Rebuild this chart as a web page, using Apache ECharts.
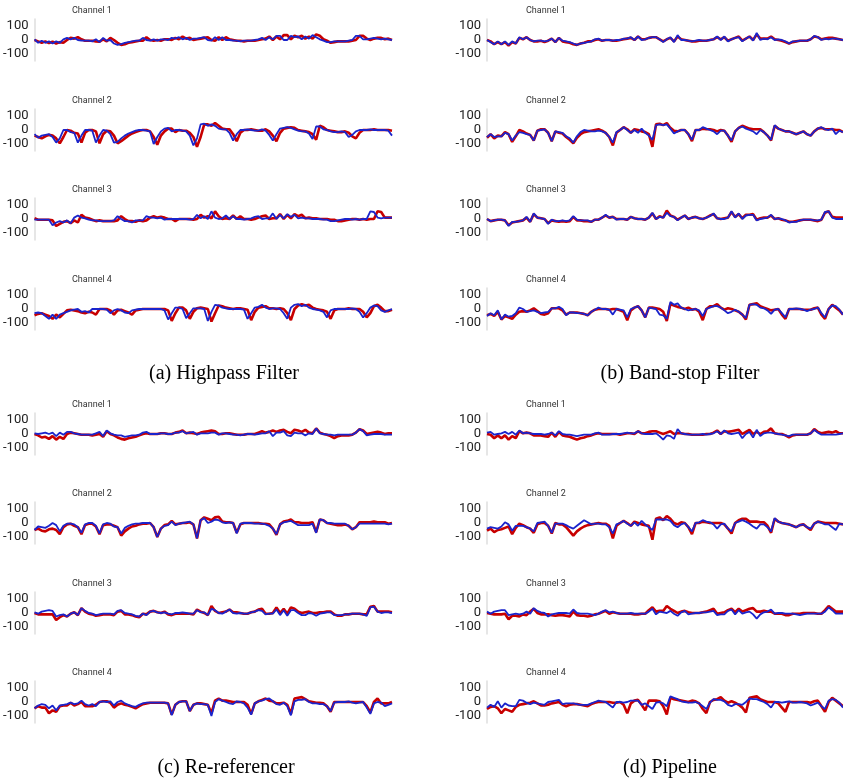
<!DOCTYPE html>
<html><head><meta charset="utf-8">
<script src="https://cdn.jsdelivr.net/npm/echarts@6/dist/echarts.min.js"></script>
<style>html,body{margin:0;padding:0;background:#fff}#c{width:843px;height:780px}</style>
</head><body><div id="c"></div>
<script>
const channelNames = ['Channel 1','Channel 2','Channel 3','Channel 4'];
const panelCaptions = ['(a) Highpass Filter','(b) Band-stop Filter','(c) Re-referencer','(d) Pipeline'];
const yTickValues = [-100, 0, 100];
const sampleCount = 100;

// (a) Highpass Filter
const hp1R = [0,-10,-20,-10,-22,-12,-25,-15,-20,0, 15,10,20,5,-5,-5,-5,-10,-12,5, -10,15,0,-20,-35,-30,-20,-15,-10,-5, -5,20,0,-5,0,-5,5,5,0,15, 5,25,10,15,0,5,10,15,20,0, -5,20,0,20,5,0,-5,-5,-10,-5, -5,-5,0,5,10,25,0,25,5,35, 35,5,30,20,30,10,25,10,40,30, 5,-5,-20,-15,-10,-10,-10,-10,-5,0, 30,30,10,0,10,15,15,5,10,0];
const hp1B = [5,-20,-5,-20,-10,-25,-10,-20,5,15, 5,15,0,-5,-5,-5,-10,5,-15,15, -5,0,-25,-35,-30,-20,-15,-10,-5,-5, 15,0,-5,5,-5,5,5,0,15,10, 20,5,15,0,10,10,15,20,0,-5, 20,0,20,0,0,-5,-5,-10,-5,-5, -5,0,5,15,0,20,5,30,30,0, 0,30,20,25,5,25,10,35,20,5, -5,-15,-15,-10,-10,-10,-10,-5,0,30, 30,5,5,10,15,10,5,10,5,0];
const hp2R = [-40,-50,-60,-45,-35,-40,-60,-95,-50,0, -5,-20,-25,-90,-20,0,0,-10,-95,-30, -5,-10,-40,-95,-80,-60,-40,-25,-15,-5, 0,0,-10,-50,-105,-40,-10,10,10,-15, 0,-5,-5,-20,-50,-120,-50,40,40,30, 50,30,10,5,5,-30,-80,-20,0,0, 5,0,-5,-5,5,-10,-40,-80,-20,10, 15,20,15,0,-5,-10,-15,-30,-70,30, 20,0,-5,-10,-15,-15,-10,-20,-45,-60, -20,0,0,0,5,0,0,0,0,-5];
const hp2B = [-30,-55,-40,-35,-30,-50,-90,-60,0,0, -15,-20,-90,-40,0,0,-5,-90,-40,0, -5,-30,-90,-85,-60,-40,-25,-15,-5,0, 0,-5,-10,-100,-50,-10,10,15,-10,0, 0,-5,-10,-40,-110,-60,40,45,30,40, 30,10,5,5,-20,-75,-30,0,0,5, 0,-5,-5,5,-5,-35,-75,-30,10,15, 20,15,5,-5,-10,-10,-25,-65,25,25, 5,0,-10,-15,-15,-10,-15,-50,-35,-10, 0,0,0,5,0,0,0,0,-5,-40];
const hp3R = [5,-5,-5,-5,-5,-10,-50,-35,-20,-15, -30,-10,-25,30,10,5,-5,-15,-10,-15, -15,-15,-15,-10,20,0,-15,-15,-20,-10, -15,-10,10,20,10,15,10,0,0,-15, 0,0,0,0,-5,0,30,10,20,5, 55,20,0,5,0,25,0,20,0,0, -5,0,10,20,25,0,5,5,35,0, 30,5,35,20,30,5,10,5,5,0, 0,0,-5,-5,-15,-15,-10,-5,0,0, -5,0,-5,0,0,55,50,10,10,10];
const hp3B = [-5,-5,-5,-5,-5,-45,-25,-15,-25,-10, -30,10,25,10,5,-5,-10,-10,-15,-15, -15,-15,-10,20,0,-15,-15,-25,-10,-10, -10,20,10,10,5,10,-5,0,0,0, 0,0,0,-5,0,30,5,20,0,55, 10,0,5,25,0,20,0,0,-5,0, 5,15,20,0,5,5,40,0,30,5, 35,15,30,5,10,5,5,0,0,0, -5,-5,-15,-15,-10,-5,0,0,-5,0, -5,0,0,55,50,10,5,10,10,10];
const hp4R = [-45,-35,-30,-40,-50,-70,-40,-60,-35,-10, -5,-10,-15,-25,-30,-20,-25,-40,0,0, 0,-10,-40,-10,-5,-15,-25,-40,-10,-5, 0,0,0,0,0,0,0,-10,-85,-30, 10,10,-10,-70,-20,5,10,5,0,-90, -30,25,20,10,5,0,5,5,0,-5, -80,-20,10,15,20,5,5,0,5,0, -30,-80,0,25,35,25,30,10,0,-5, -10,-20,-70,-10,0,0,0,5,0,0, 0,-20,-60,-30,20,30,10,-15,-15,-5];
const hp4B = [-30,-25,-30,-50,-70,-40,-70,-40,-30,-20, -10,-5,0,-20,-15,-25,0,0,0,0, -5,-30,-10,0,-10,-25,-30,-10,-5,0, 0,0,0,0,0,0,-10,-75,-30,10, 10,0,-65,-30,5,5,5,0,-85,-20, 30,25,10,5,0,0,0,0,-5,-70, -30,10,15,30,10,0,5,5,0,-30, -70,10,30,35,20,30,10,0,-5,-10, -20,-60,-10,0,0,0,0,0,5,0, -20,-60,-30,10,25,20,-10,-20,-10,0];

// (b) Band-stop Filter
const bs1R = [0,-10,-30,-15,-30,-15,-40,-15,-25,15, 5,20,0,-10,-10,-5,-15,-5,10,-15, 15,-10,-15,-20,-30,-35,-25,-20,-10,-10, 0,5,-5,0,0,-5,-5,0,5,10, 15,0,25,5,5,15,20,20,5,-10, 5,15,-10,25,5,0,-5,-10,-10,-5, -5,-5,0,5,20,5,20,-5,5,15, 25,-5,10,25,0,40,10,10,10,25, 5,0,-5,-15,-25,-15,-10,-5,-5,-5, 5,25,20,5,10,15,15,10,5,0];
const bs1B = [0,-15,-30,-10,-30,-10,-35,-10,-25,20, 5,20,0,-10,-5,-5,-10,-5,10,-15, 15,-5,-10,-15,-25,-35,-25,-20,-15,-10, 5,10,-5,0,0,-5,0,0,10,10, 20,0,25,0,5,15,20,20,5,-15, 5,20,-15,35,0,0,-5,-10,-5,0, -5,-5,0,5,25,0,25,-10,5,15, 20,-10,10,25,-5,50,0,10,5,20, 0,5,0,-10,-25,-10,-10,-5,-5,-5, 5,30,20,0,10,5,10,10,5,0];
const bs2R = [-55,-30,-60,-40,-45,-15,-30,-85,-45,0, -10,-25,-35,-75,-5,5,5,-20,-80,-10, -20,-25,-50,-70,-95,-55,-30,-15,-10,-5, 0,5,-5,-20,-50,-110,-20,0,20,5, -20,5,0,-10,-15,-30,-120,40,45,35, 50,15,-5,-10,0,0,-30,-80,0,0, 10,5,5,0,-10,0,-5,-40,-85,-10, 15,30,20,10,5,5,5,-15,-40,-75, 30,10,0,-10,-10,-20,-30,-20,-10,-30, -40,-10,10,15,5,5,5,0,0,-15];
const bs2B = [-50,-30,-50,-45,-45,-20,-30,-75,-40,-15, -20,-30,-35,-75,-5,0,5,-20,-80,-10, -15,-20,-45,-60,-90,-45,-15,0,-5,-10, -10,-5,-10,-20,-50,-90,-15,0,20,0, -20,0,-20,10,-20,-40,-70,35,40,35, 40,10,-25,-10,0,0,-30,-70,0,0, 20,10,0,-10,-30,-5,-5,-40,-75,-10, 15,25,10,0,-10,-30,0,-15,-40,-70, 35,10,0,-10,-10,-20,-30,-20,-10,-30, -40,-10,10,20,5,0,10,-30,-5,-15];
const bs3R = [0,-15,-10,-5,-5,-10,-45,-25,-20,-15, -10,10,-20,35,10,5,0,-30,-10,-15, -20,-15,-20,-15,15,-10,-10,-15,-15,-20, -5,-5,10,25,10,15,0,0,0,-5, 15,5,0,0,-5,10,40,0,20,10, 60,25,15,-5,10,25,0,10,15,5, 0,10,25,35,5,0,5,10,50,15, 35,5,30,30,35,-5,5,10,10,25, 0,5,-5,-10,-20,-20,-15,-10,-5,-5, -5,-10,-15,-5,45,55,15,10,10,10];
const bs3B = [0,-15,-10,-5,-5,-10,-50,-20,-20,-15, -10,15,-20,40,10,5,0,-35,-5,-15, -15,-10,-15,-10,20,-5,-10,-10,-10,-20, -5,-5,10,30,10,15,-5,0,0,-5, 15,5,0,0,-5,10,45,0,15,10, 45,20,15,-10,10,25,0,10,15,5, 0,10,20,40,5,0,0,10,55,10, 40,0,25,30,30,-10,0,5,10,30, 0,5,0,-10,-25,-20,-20,-10,-5,-5, -5,-10,-10,-5,50,55,10,0,0,0];
const bs4R = [-45,-35,-50,-20,-75,-50,-60,-70,-40,-20, -15,-20,-10,5,-15,-35,-40,-30,5,5, 5,-10,-40,-25,-25,-25,-30,-35,-45,-20, -5,0,0,0,-5,0,0,-10,-20,-80, -10,10,20,-10,-60,10,10,5,0,-20, -85,35,25,15,10,0,10,-5,0,-20, -80,0,20,20,35,10,-5,5,0,-10, -20,-40,-75,30,35,40,20,10,0,-10, -5,0,-40,-70,0,0,0,0,-5,-5, -5,5,10,-40,-70,0,30,10,-10,-40];
const bs4B = [-50,-30,-45,-10,-75,-40,-55,-50,-30,10, 0,-20,-15,-10,-20,-30,-25,-20,5,5, 15,0,-45,-25,-25,-30,-30,-35,-45,-20, -5,10,0,0,-5,-40,0,-5,-10,-60, 0,10,20,-10,-60,10,5,0,-40,-45, -70,50,30,40,10,0,-10,-5,0,-10, -50,0,10,20,20,10,-10,-30,-20,-5, -20,-40,-65,30,35,30,10,5,-10,-35, -5,0,-30,-60,0,0,5,0,-5,-15, -5,0,10,-30,-60,0,25,20,-5,-40];

// (c) Re-referencer
const rr1R = [0,-10,-25,-20,-35,-15,-40,-20,-35,0, 10,5,0,-5,-5,-5,-10,-5,0,-20, 20,0,-10,-25,-35,-40,-30,-25,-20,-10, 0,5,0,0,0,5,5,0,0,10, 15,25,5,10,5,0,10,15,20,25, 20,0,0,5,5,0,-5,-5,-5,0, 0,0,10,20,10,15,25,15,25,30, 15,5,30,25,15,30,10,5,40,10, 0,-5,-15,-30,-15,-10,-10,-10,-5,10, 35,25,0,5,10,15,10,0,5,5];
const rr1B = [5,0,5,10,0,10,-15,10,-5,15, 15,5,0,-5,-5,-5,-5,5,15,-15, 25,5,-5,-10,-10,-20,-15,-10,-10,-5, 10,15,0,0,0,5,5,0,0,10, 10,20,5,10,15,-5,5,5,5,10, 10,-5,5,5,0,-5,-5,-10,-5,0, 0,-5,0,5,5,20,-15,10,10,20, -10,-15,10,5,5,-10,5,0,40,5, 0,-5,-5,-10,-5,-5,-5,-5,-5,10, 35,20,-10,-5,0,0,0,-5,-5,-5];
const rr2R = [-50,-40,-55,-60,-45,-40,-50,-80,-30,-10, -5,-20,-30,-80,-15,-5,-5,-25,-80,-15, -10,-10,-20,-30,-90,-60,-40,-25,-20,-10, -5,-5,0,-30,-100,-40,-15,-10,15,-10, -5,0,0,5,-10,-110,20,40,30,20, 40,45,10,5,5,0,-70,-10,0,0, 0,0,0,-5,-5,-10,-40,-85,-10,10, 15,25,5,5,0,0,0,5,-65,25, 20,0,-5,-10,-15,-15,-10,-20,-45,-30, 5,5,5,5,10,5,5,5,-5,0];
const rr2B = [-50,-25,-30,-35,-20,0,-15,-60,-20,-5, -5,-10,-30,-70,-10,0,0,-20,-75,-10, 0,-5,-25,-30,-75,-35,-20,-10,-5,-5, 0,0,0,-30,-100,-40,-20,-15,10,-15, -5,0,5,10,-10,-110,20,35,0,10, 25,20,5,0,5,0,-75,-5,0,0, 0,-5,-5,-5,-10,-20,-40,-80,-10,5, 10,15,0,-15,-15,-15,-15,-5,-70,25, 20,0,0,-5,-5,-5,-5,-20,-45,-30, -5,-5,-5,-5,-5,-5,-5,-5,-10,-5];
const rr3R = [0,-10,-10,-10,-10,-10,-50,-30,-15,-25, -5,5,-15,35,10,-5,-10,-20,-15,-10, -10,-10,-15,10,15,-10,-10,-15,-25,-30, -5,-10,10,15,5,0,10,-10,-15,-5, -5,-5,-5,-5,-10,25,10,0,-15,50, 15,0,5,10,25,5,5,0,-5,-5, 5,10,25,30,-5,-5,0,40,0,30, -5,40,30,10,0,5,10,0,0,5, 5,10,10,-10,-20,-20,-10,-10,-5,-5, -5,-10,-10,45,50,10,10,10,10,5];
const rr3B = [5,-5,10,15,20,15,-25,-15,-10,-25, -5,5,-15,35,15,0,-5,-15,-10,-5, -5,-5,-10,15,20,0,-5,-10,-20,-25, -5,-15,10,15,5,0,5,-5,-10,0, 0,5,0,-5,-5,20,5,5,-15,30, 20,0,-5,10,25,0,-5,0,-5,-5, 5,10,20,15,-10,-5,-5,25,-15,20, -20,20,20,0,-15,-15,0,-5,-20,-5, 0,5,5,-15,-15,-15,-10,-10,-5,-5, -5,-10,-20,40,45,10,0,5,5,0];
const rr4R = [-45,-30,-40,-40,-80,-60,-70,-30,-25,-25, -5,-25,-15,0,-30,-30,-30,-20,0,5, 5,-5,-40,-20,-10,-20,-25,-35,-45,-30, -15,-10,-5,-5,-5,-5,-5,-10,-90,-20, 0,5,5,-65,-20,-10,-10,-15,-20,-80, 10,25,10,10,5,0,0,0,0,-20, -85,-10,5,15,25,10,5,-10,-10,-5, -20,-85,25,30,35,20,5,0,-5,-5, -10,-30,-70,0,0,0,0,0,0,0, 0,0,-30,-75,0,25,-10,-10,-10,0];
const rr4B = [-45,-25,-15,-20,-45,-25,-60,-25,-20,-15, -5,-15,-10,10,-15,-25,-15,-30,0,5, 0,5,-25,0,10,-10,-20,-30,-35,-20, -10,-5,-5,-5,-5,-5,-5,-10,-95,-20, 0,5,5,-65,-20,-10,-15,-15,-20,-100, 0,20,10,0,-10,-15,5,0,-10,-40, -90,-10,5,10,20,25,5,-15,-20,-5, -30,-95,5,15,15,20,0,-10,-10,-15, -15,-30,-65,-5,0,0,0,5,-5,-10, -5,0,-40,-85,-10,0,-5,-30,-20,-10];

// (d) Pipeline
const pl1R = [0,-5,-30,-10,-30,-10,-40,-15,-30,20, 5,10,5,-10,-10,-10,-15,-20,10,-20, 15,-10,-15,-20,-30,-40,-30,-25,-15,-10, 0,5,0,0,0,0,0,-5,0,5, 5,0,20,5,5,15,20,20,10,0, 10,20,0,5,5,0,0,-5,-5,-5, -5,0,0,10,25,0,20,15,20,25, 30,0,15,30,0,15,0,15,20,40, 5,0,0,-10,-25,-10,-5,-5,-5,-5, 5,35,15,5,10,15,10,20,5,5];
const pl1B = [10,15,-5,0,5,15,0,15,-5,25, 5,10,5,0,0,0,-5,0,10,-10, 20,0,-5,-5,-10,-15,-10,-5,-5,-5, 5,10,-5,-5,-5,0,0,0,5,10, 5,5,20,5,0,0,0,5,-15,-40, -10,-15,-35,35,5,0,-5,-5,-5,-5, 0,-5,0,5,20,0,25,5,0,5, 10,-30,0,15,-25,30,-15,5,10,10, 5,0,-5,-10,-15,-5,-5,-5,-5,-5, 5,30,10,-5,-5,-5,-5,-5,0,5];
const pl2R = [-55,-40,-65,-50,-45,-35,-25,-80,-35,-5, -15,-30,-40,-70,-10,0,0,-20,-75,0, -10,-10,-30,-60,-90,-60,-40,-25,-15,-10, -5,0,-5,-5,-20,-110,-20,0,15,0, -20,10,0,-10,-15,-20,-120,30,40,20, 50,30,0,-10,5,0,-30,-80,0,0, 10,5,0,0,0,0,-10,-40,-75,0, 20,30,30,10,10,10,5,5,-20,-70, 30,10,0,-5,-10,-20,-30,-15,-10,-30, -50,-5,10,5,0,0,0,0,-5,-10];
const pl2B = [-40,-30,-35,-40,-25,5,-10,-55,-20,-20, -20,-30,-40,-60,0,5,10,-20,-70,-5, -5,-5,-15,-30,-40,-20,0,20,5,-10, -5,-5,-10,-10,-30,-75,-10,0,15,-5, -20,5,-20,15,-10,-30,-50,25,25,25, 25,15,-15,-30,-10,0,-30,-60,0,5, 20,10,5,-10,-40,-10,-5,-40,-60,0, 10,20,10,-5,-25,-40,-10,-10,-30,-60, 35,10,0,-5,-10,-20,-30,-15,-10,-30, -40,-5,10,0,-10,-10,-30,-50,-5,-10];
const pl3R = [0,-5,-10,-10,-10,-5,-45,-20,-20,-25, -10,-15,10,30,0,-10,-10,-10,-15,-20, -15,-15,-20,-25,10,-15,-20,-20,-25,-20, -10,-5,5,15,-5,5,0,-5,-5,-5, -5,-10,-10,-5,-5,20,40,10,15,15, 50,30,15,0,10,15,5,0,0,0, 5,10,20,30,-5,0,5,20,30,5, 30,10,20,30,35,10,10,15,10,10, -5,-5,-5,-15,-15,-5,-5,-5,0,0, 0,0,-5,-5,20,50,30,10,10,10];
const pl3B = [10,-5,10,15,20,20,-15,-10,-5,-10, -5,10,-5,35,15,5,0,-25,-10,-5, 0,0,0,-5,25,0,-5,-5,-5,-10, -15,-5,10,20,5,10,0,-5,-5,-5, 0,-5,-5,-5,-5,10,30,-10,10,5, 0,15,-5,-20,5,15,-10,-5,0,0, 5,5,10,15,-15,-10,-10,15,25,-10, 20,-5,5,10,-10,-40,-10,5,10,25, -5,0,0,-5,-5,-5,-10,-15,-10,-5, -5,-5,-5,-5,10,40,20,-5,-5,-5];
const pl4R = [-50,-35,-30,-45,-80,-50,-60,-70,-35,-20, -15,-10,-5,5,-10,-25,-25,-20,-10,-5, 0,-20,-30,-20,-15,-15,-20,-25,-30,-15, -5,0,0,0,0,-5,-5,0,-20,-80, -10,10,15,-20,-60,10,10,10,5,-30, -90,30,20,15,10,5,0,10,5,-10, -50,-80,0,15,20,35,10,-5,5,-5, -20,-40,-75,30,35,40,20,10,0,0, 0,-10,-40,-70,0,0,0,0,0,0, -5,5,10,-30,-70,0,30,10,-10,-30];
const pl4B = [-40,-20,-35,5,-40,-10,-25,-30,-30,15, 10,-5,-15,-5,-10,-15,-20,0,5,10, 15,-15,-10,-10,-10,-15,-20,-20,-20,-10, 0,10,5,0,-20,-40,0,0,-5,0, 10,10,10,-20,-10,-30,-50,-5,0,-10, -30,40,30,20,5,0,-5,-5,0,-10, -30,-50,-5,20,15,15,5,-20,-30,-15, -15,-20,0,25,20,20,10,0,-15,-40, 0,0,-5,0,5,-5,-5,0,-5,-10, -25,-15,-5,-30,-50,10,20,15,-5,-40];

const panelData = [
  [[hp1R,hp1B],[hp2R,hp2B],[hp3R,hp3B],[hp4R,hp4B]],
  [[bs1R,bs1B],[bs2R,bs2B],[bs3R,bs3B],[bs4R,bs4B]],
  [[rr1R,rr1B],[rr2R,rr2B],[rr3R,rr3B],[rr4R,rr4B]],
  [[pl1R,pl1B],[pl2R,pl2B],[pl3R,pl3B],[pl4R,pl4B]]
];

const layout = [
  {left:33, right:451, tops:[19,109,198,288], cx:224, cy:374},
  {left:487, right:0, tops:[19,109,198,288], cx:680, cy:374},
  {left:33, right:451, tops:[413,502,592,681], cx:226, cy:768},
  {left:487, right:0, tops:[413,502,592,681], cx:670, cy:768}
];

const xIdx = Array.from({length: sampleCount}, (_, i) => i);
const grids = [], xAxes = [], yAxes = [], series = [], titles = [], graphics = [];
let g = 0;
layout.forEach((L, p) => {
  L.tops.forEach((top, c) => {
    grids.push({left: L.left, right: L.right, top: top, height: 42});
    xAxes.push({gridIndex: g, type: 'category', data: xIdx, boundaryGap: false, show: false});
    yAxes.push({gridIndex: g, type: 'value', min: -150, max: 150, interval: 50,
      axisLine: {show: true, lineStyle: {color: '#dedede', width: 1.5}},
      axisTick: {show: false}, splitLine: {show: false},
      axisLabel: {margin: 6, fontSize: 13, color: '#222', fontFamily: 'Roboto',
        formatter: v => yTickValues.includes(v) ? String(v) : ''}});
    titles.push({text: channelNames[c], left: L.left + 39, top: top - 13, padding: 0,
      textStyle: {fontSize: 9, fontWeight: 'normal', color: '#333', fontFamily: 'Roboto'}});
    const [red, blue] = panelData[p][c];
    series.push({type: 'line', xAxisIndex: g, yAxisIndex: g, data: red, symbol: 'none',
      lineStyle: {color: '#c80000', width: 2.6}, itemStyle: {color: '#c80000'}, z: 2, silent: true});
    series.push({type: 'line', xAxisIndex: g, yAxisIndex: g, data: blue, symbol: 'none',
      lineStyle: {color: '#1a24cc', width: 1.8}, itemStyle: {color: '#1a24cc'}, z: 3, silent: true});
    g++;
  });
  graphics.push({type: 'text', x: L.cx, y: L.cy,
    style: {text: panelCaptions[p], fontSize: 20, fontFamily: 'Liberation Serif', fill: '#000',
      align: 'center', verticalAlign: 'middle', textAlign: 'center', textVerticalAlign: 'middle'}});
});

const chart = echarts.init(document.getElementById('c'), null, {renderer: 'canvas'});
chart.setOption({animation: false, backgroundColor: '#fff', title: titles, grid: grids,
  xAxis: xAxes, yAxis: yAxes, series: series, graphic: graphics});
</script></body></html>
